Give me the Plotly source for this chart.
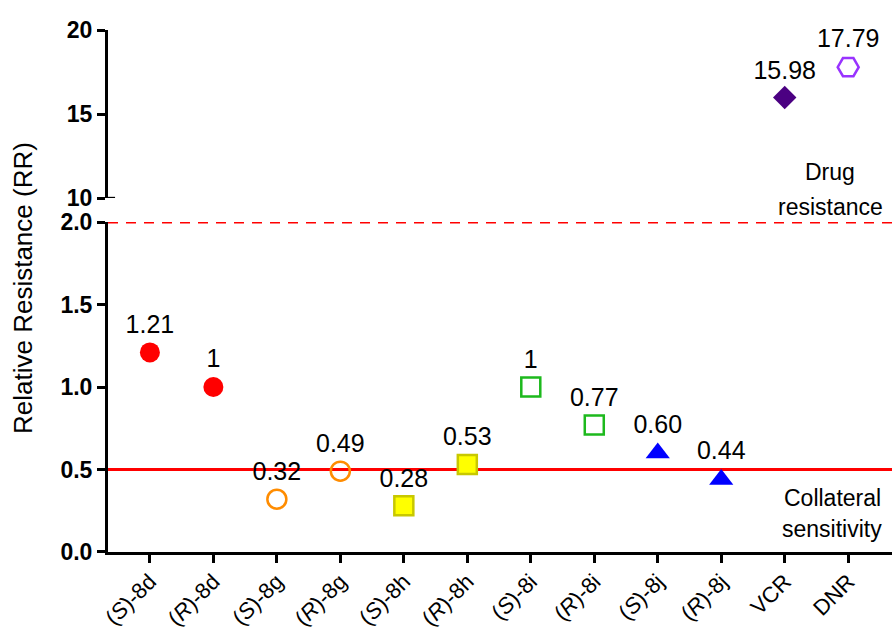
import plotly.graph_objects as go

categories = ["(<i>S</i>)-8d", "(<i>R</i>)-8d", "(<i>S</i>)-8g", "(<i>R</i>)-8g",
              "(<i>S</i>)-8h", "(<i>R</i>)-8h", "(<i>S</i>)-8i", "(<i>R</i>)-8i",
              "(<i>S</i>)-8j", "(<i>R</i>)-8j", "VCR", "DNR"]
values = [1.21, 1, 0.32, 0.49, 0.28, 0.53, 1, 0.77, 0.60, 0.44, 15.98, 17.79]
labels = ["1.21", "1", "0.32", "0.49", "0.28", "0.53", "1", "0.77", "0.60", "0.44", "15.98", "17.79"]
lower_ticks = [0, 0.5, 1.0, 1.5, 2.0]
upper_ticks = [10, 15, 20]

styles = [
    dict(symbol="circle", size=20, color="#FF0000", line=dict(width=0)),
    dict(symbol="circle", size=20, color="#FF0000", line=dict(width=0)),
    dict(symbol="circle-open", size=19, color="#FF8C00", line=dict(width=2.5, color="#FF8C00")),
    dict(symbol="circle-open", size=19, color="#FF8C00", line=dict(width=2.5, color="#FF8C00")),
    dict(symbol="square", size=19, color="#FFFF00", line=dict(width=2.5, color="#C8C800")),
    dict(symbol="square", size=19, color="#FFFF00", line=dict(width=2.5, color="#C8C800")),
    dict(symbol="square-open", size=19, color="#1DB91D", line=dict(width=2.5, color="#1DB91D")),
    dict(symbol="square-open", size=19, color="#1DB91D", line=dict(width=2.5, color="#1DB91D")),
    dict(symbol="triangle-up", size=21, color="#0000FF", line=dict(width=0)),
    dict(symbol="triangle-up", size=21, color="#0000FF", line=dict(width=0)),
    dict(symbol="diamond", size=18, color="#4B0082", line=dict(width=0)),
    dict(symbol="hexagon2-open", size=21, color="#9933FF", line=dict(width=2.5, color="#9933FF")),
]

FONT = "Liberation Sans, Arial"

fig = go.Figure()
for c, v, t, s in zip(categories, values, labels, styles):
    upper = v > 2
    fig.add_trace(go.Scatter(
        x=[c], y=[v], mode="markers+text", text=[t], textposition="top center",
        textfont=dict(family=FONT, size=25, color="black"),
        marker=s, yaxis="y2" if upper else "y", cliponaxis=False, showlegend=False,
    ))

axis_font = dict(family=FONT, size=23, color="black", weight="bold")

def note(text, px, py, size=23, angle=0):
    return dict(text=text, textangle=angle, xref="paper", yref="paper",
                x=(px - 108) / 784, y=(552 - py) / 522, xanchor="center", yanchor="middle",
                showarrow=False, font=dict(family=FONT, size=size, color="black"))

fig.update_layout(
    width=892, height=630,
    margin=dict(l=108, r=0, t=30, b=78),
    plot_bgcolor="white", paper_bgcolor="white",
    xaxis=dict(
        categoryorder="array", categoryarray=categories,
        range=[-0.66, 11.69], showline=True, linecolor="black", linewidth=3,
        ticks="outside", ticklen=8, tickwidth=2.5, tickcolor="black",
        tickangle=-45, tickfont=dict(family=FONT, size=22, color="black"),
        ticklabelstandoff=-3,
        showgrid=False, zeroline=False, anchor="y", automargin=False,
    ),
    yaxis=dict(
        domain=[0, 0.632], range=[0, 2.0], tickvals=lower_ticks, tickformat=".1f",
        showline=True, linecolor="black", linewidth=3,
        ticks="outside", ticklen=8, tickwidth=2.5, tickcolor="black",
        tickfont=axis_font, showgrid=False, zeroline=False, anchor="x", automargin=False,
    ),
    yaxis2=dict(
        domain=[0.678, 1.0], range=[10, 20], tickvals=upper_ticks,
        showline=True, linecolor="black", linewidth=3,
        ticks="outside", ticklen=8, tickwidth=2.5, tickcolor="black",
        tickfont=axis_font, showgrid=False, zeroline=False, anchor="x", automargin=False,
    ),
    shapes=[
        dict(type="line", xref="x domain", yref="y", x0=0, x1=1, y0=0.5, y1=0.5,
             line=dict(color="#FF0000", width=3), layer="below"),
        dict(type="line", xref="x domain", yref="y", x0=0, x1=1, y0=2.0, y1=2.0,
             line=dict(color="#FF0000", width=3, dash="10px,8px"), layer="below"),
        dict(type="line", xref="x domain", yref="y2", x0=0, x1=0.009, y0=10, y1=10,
             line=dict(color="black", width=2.5)),
    ],
    annotations=[
        note("Relative Resistance (RR)", 23, 288, size=26, angle=-90),
        note("Drug", 830, 172),
        note("resistance", 830, 207),
        note("Collateral", 832, 498),
        note("sensitivity", 832, 529),
    ],
)

fig.write_html("out.html", config={"displayModeBar": False},
               post_script="document.body.style.margin='0';")
